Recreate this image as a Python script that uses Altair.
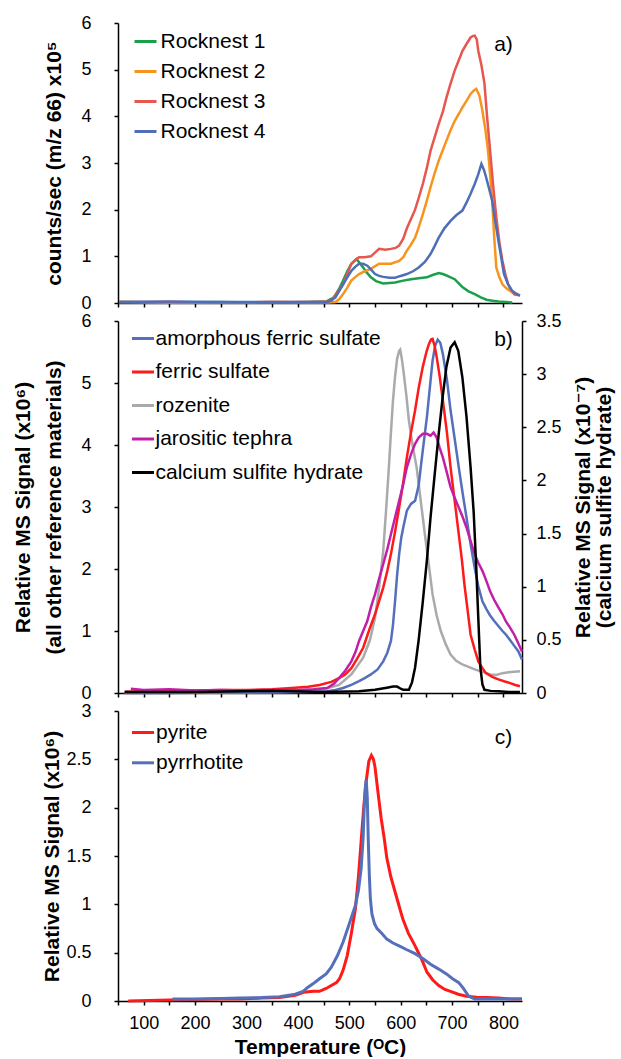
import altair as alt
import pandas as pd

FONT = "Liberation Sans, Arial, DejaVu Sans"

# ---------------- panel a : Rocknest samples (counts/sec x10^5) ----------------
rn_names = ["Rocknest 1", "Rocknest 2", "Rocknest 3", "Rocknest 4"]
rn_colors = ["#1AA04A", "#F7941D", "#E5574F", "#4E6EB8"]

rn1_T = [52, 150, 250, 350, 420, 455, 470, 480, 488, 496, 504, 510, 514, 520, 527, 535, 542, 552, 566, 578,
         589, 605, 620, 635, 651, 662, 674, 682, 689, 697, 705, 712, 720, 732, 744, 756, 767, 778, 790, 805, 817]
rn1_v = [0.02, 0.01, 0.02, 0.01, 0.02, 0.03, 0.12, 0.3, 0.48, 0.68, 0.84, 0.9, 0.94, 0.86, 0.76, 0.64, 0.55, 0.47,
         0.42, 0.43, 0.44, 0.48, 0.51, 0.53, 0.55, 0.6, 0.64, 0.62, 0.59, 0.55, 0.51, 0.43, 0.34, 0.25, 0.19, 0.12,
         0.07, 0.05, 0.03, 0.02, 0.01]

rn2_T = [52, 150, 250, 350, 420, 460, 473, 480, 488, 496, 504, 512, 519, 530, 542, 558, 570, 581, 597, 605, 612,
         620, 628, 635, 643, 651, 658, 666, 674, 682, 689, 697, 705, 713, 720, 728, 736, 742, 747, 753, 759, 765,
         770, 774, 778, 782, 786, 792, 798, 805, 813, 825]
rn2_v = [0.02, 0.01, 0.01, 0.02, 0.01, 0.01, 0.02, 0.08, 0.19, 0.33, 0.48, 0.56, 0.62, 0.68, 0.73, 0.84, 0.84,
         0.84, 0.9, 0.98, 1.12, 1.25, 1.4, 1.62, 1.9, 2.2, 2.48, 2.78, 3.05, 3.28, 3.48, 3.7, 3.9, 4.05, 4.19,
         4.33, 4.48, 4.55, 4.59, 4.45, 4.12, 3.7, 3.26, 2.75, 2.19, 1.4, 0.76, 0.55, 0.4, 0.32, 0.26, 0.16]

rn3_T = [52, 150, 250, 350, 420, 455, 465, 475, 488, 496, 504, 512, 519, 530, 542, 550, 558, 570, 581, 590, 597,
         605, 612, 620, 628, 635, 643, 651, 658, 666, 674, 682, 689, 697, 705, 713, 720, 728, 736, 740, 744, 748,
         751, 757, 763, 768, 774, 780, 786, 792, 798, 804, 809, 815, 821, 832]
rn3_v = [0.02, 0.02, 0.01, 0.02, 0.02, 0.03, 0.05, 0.2, 0.4, 0.62, 0.84, 0.92, 0.98, 0.98, 1.0, 1.08, 1.16, 1.14,
         1.16, 1.18, 1.23, 1.38, 1.6, 1.8, 2.0, 2.25, 2.55, 2.9, 3.26, 3.55, 3.84, 4.1, 4.4, 4.7, 4.98, 5.2, 5.4,
         5.55, 5.69, 5.72, 5.73, 5.65, 5.4, 5.1, 4.7, 4.0, 3.26, 2.5, 1.84, 1.3, 0.9, 0.6, 0.4, 0.28, 0.19, 0.16]

rn4_T = [52, 150, 250, 350, 420, 450, 457, 465, 473, 480, 488, 496, 504, 512, 519, 527, 535, 542, 550, 558, 566,
         578, 589, 600, 612, 624, 635, 647, 658, 666, 674, 685, 697, 708, 720, 728, 736, 744, 751, 757, 762, 766,
         772, 778, 784, 790, 796, 801, 809, 817, 825, 832]
rn4_v = [0.02, 0.03, 0.02, 0.02, 0.02, 0.02, 0.02, 0.05, 0.12, 0.25, 0.4, 0.55, 0.69, 0.78, 0.84, 0.84, 0.8, 0.72,
         0.62, 0.58, 0.56, 0.54, 0.54, 0.58, 0.62, 0.68, 0.76, 0.88, 1.05, 1.22, 1.4, 1.6, 1.76, 1.88, 1.98, 2.15,
         2.34, 2.55, 2.76, 2.98, 2.85, 2.7, 2.45, 2.19, 1.75, 1.34, 0.95, 0.62, 0.4, 0.26, 0.2, 0.16]

# ---------------- panel b : reference materials ----------------
ref_names = ["amorphous ferric sulfate", "ferric sulfate", "rozenite", "jarositic tephra", "calcium sulfite hydrate"]
ref_colors = ["#5470BA", "#FF1A1A", "#AAAAAA", "#C21FA8", "#000000"]

afs_T = [63, 150, 250, 350, 440, 457, 473, 488, 504, 519, 530, 542, 555, 566, 574, 581, 585, 589, 593, 597, 601,
         605, 612, 620, 628, 635, 639, 645, 651, 657, 662, 667, 672, 677, 682, 690, 697, 705, 713, 720, 728, 736,
         744, 751, 759, 767, 774, 782, 790, 798, 805, 813, 821, 829, 836]
afs_v = [0.0, 0.0, 0.01, 0.01, 0.02, 0.03, 0.05, 0.08, 0.13, 0.19, 0.24, 0.3, 0.38, 0.51, 0.65, 0.84, 1.1, 1.48,
         1.9, 2.24, 2.5, 2.67, 2.94, 3.05, 3.1, 3.35, 3.64, 4.05, 4.45, 4.95, 5.36, 5.6, 5.7, 5.65, 5.47, 5.05,
         4.56, 4.1, 3.64, 3.25, 2.83, 2.4, 2.02, 1.72, 1.48, 1.35, 1.25, 1.16, 1.08, 1.0, 0.94, 0.85, 0.76, 0.67,
         0.54]

fs_T = [63, 100, 150, 200, 250, 300, 350, 388, 420, 442, 465, 480, 492, 504, 515, 527, 538, 550, 558, 566, 574,
        581, 589, 597, 605, 612, 620, 628, 635, 643, 650, 655, 659, 662, 666, 670, 676, 682, 690, 697, 705, 713,
        719, 724, 730, 736, 744, 751, 759, 766, 778, 790, 801, 813, 823, 832]
fs_v = [0.02, 0.03, 0.04, 0.04, 0.05, 0.05, 0.06, 0.08, 0.1, 0.13, 0.18, 0.24, 0.3, 0.4, 0.55, 0.73, 1.0, 1.27,
        1.48, 1.7, 1.97, 2.24, 2.6, 2.99, 3.4, 3.8, 4.2, 4.56, 4.92, 5.26, 5.5, 5.63, 5.7, 5.71, 5.6, 5.42, 5.1,
        4.72, 4.2, 3.64, 3.1, 2.56, 2.15, 1.75, 1.35, 0.94, 0.7, 0.51, 0.4, 0.32, 0.26, 0.22, 0.19, 0.16, 0.13,
        0.11]

roz_T = [63, 100, 200, 300, 400, 450, 480, 504, 527, 540, 550, 558, 566, 572, 577, 581, 585, 589, 593, 597, 599,
         602, 606, 611, 616, 623, 631, 639, 647, 655, 662, 670, 678, 688, 697, 708, 720, 732, 744, 759, 774, 786,
         798, 815, 832]
roz_v = [0.0, 0.0, 0.01, 0.01, 0.02, 0.06, 0.13, 0.3, 0.57, 0.85, 1.21, 1.7, 2.29, 3.0, 3.64, 4.2, 4.72, 5.1,
         5.39, 5.52, 5.54, 5.4, 5.15, 4.8, 4.39, 4.0, 3.64, 3.1, 2.56, 2.05, 1.59, 1.25, 1.0, 0.78, 0.62, 0.52,
         0.46, 0.42, 0.38, 0.34, 0.3, 0.29, 0.32, 0.34, 0.35]

jt_T = [75, 100, 150, 200, 250, 300, 350, 400, 430, 457, 470, 480, 492, 504, 512, 519, 527, 535, 542, 550, 558,
        566, 574, 581, 589, 597, 605, 612, 620, 628, 635, 643, 651, 658, 664, 670, 676, 682, 690, 697, 705, 713,
        720, 728, 736, 744, 751, 759, 767, 774, 782, 790, 798, 805, 813, 821, 829, 836]
jt_v = [0.07, 0.05, 0.06, 0.04, 0.05, 0.04, 0.05, 0.05, 0.06, 0.08, 0.15, 0.24, 0.36, 0.51, 0.66, 0.84, 1.0, 1.16,
        1.38, 1.59, 1.84, 2.08, 2.32, 2.56, 2.83, 3.1, 3.37, 3.64, 3.85, 4.02, 4.12, 4.18, 4.18, 4.15, 4.2, 4.12,
        3.95, 3.8, 3.55, 3.32, 3.15, 2.99, 2.85, 2.67, 2.45, 2.24, 2.1, 1.97, 1.8, 1.64, 1.5, 1.38, 1.27, 1.15,
        1.05, 0.94, 0.8, 0.67]

# calcium sulfite hydrate, right axis (x10^-7)
csh_T = [63, 200, 350, 450, 519, 550, 573, 585, 593, 600, 605, 616, 622, 628, 635, 643, 651, 658, 666, 674, 682,
         689, 697, 705, 712, 720, 728, 736, 742, 747, 751, 755, 759, 763, 775, 790, 810, 832]
csh_v = [0.01, 0.01, 0.02, 0.01, 0.016, 0.03, 0.05, 0.06, 0.06, 0.04, 0.03, 0.03, 0.1, 0.24, 0.5, 0.86, 1.25, 1.65,
         2.05, 2.44, 2.8, 3.07, 3.25, 3.3, 3.22, 2.97, 2.6, 2.12, 1.7, 1.18, 0.7, 0.24, 0.08, 0.03, 0.02, 0.016,
         0.01, 0.01]

# ---------------- panel c : sulfides ----------------
sul_names = ["pyrite", "pyrrhotite"]
sul_colors = ["#FF1A1A", "#5470BA"]

py_T = [70, 150, 250, 287, 330, 364, 395, 411, 430, 442, 455, 465, 475, 481, 488, 496, 504, 512, 518, 523, 528,
        533, 538, 543, 547, 550, 556, 562, 568, 573, 581, 589, 597, 604, 615, 628, 640, 651, 662, 674, 686, 697,
        712, 728, 748, 767, 790, 815, 836]
py_v = [0.0, 0.01, 0.02, 0.02, 0.03, 0.035, 0.06, 0.09, 0.1, 0.1, 0.13, 0.16, 0.19, 0.23, 0.32, 0.47, 0.7, 0.96,
        1.3, 1.65, 2.0, 2.28, 2.48, 2.54, 2.5, 2.42, 2.15, 1.89, 1.68, 1.48, 1.28, 1.13, 0.98, 0.85, 0.7, 0.57,
        0.44, 0.3, 0.22, 0.16, 0.12, 0.1, 0.07, 0.05, 0.04, 0.035, 0.03, 0.02, 0.02]

po_T = [156, 200, 250, 287, 330, 364, 395, 410, 419, 430, 442, 455, 465, 477, 488, 500, 512, 518, 523, 527, 529,
        531, 533, 535, 537, 539, 541, 544, 549, 554, 563, 573, 585, 597, 612, 628, 643, 658, 674, 689, 701, 713,
        722, 732, 744, 790, 836]
po_v = [0.02, 0.02, 0.025, 0.03, 0.035, 0.045, 0.07, 0.1, 0.14, 0.18, 0.23, 0.28, 0.35, 0.47, 0.61, 0.8, 0.99,
        1.15, 1.37, 1.7, 2.0, 2.2, 2.29, 2.1, 1.65, 1.3, 1.06, 0.9, 0.8, 0.75, 0.7, 0.64, 0.6, 0.57, 0.53, 0.49,
        0.44, 0.38, 0.33, 0.28, 0.23, 0.19, 0.13, 0.05, 0.02, 0.02, 0.02]

# panel labels
lab_text = ["a)", "b)", "c)"]
lab_T = [800, 800, 800]
lab_v = [5.53, 5.69, 2.72]

# x axis
x_domain = [50, 836]
x_ticks = list(range(50, 801, 50))

W = 404
H_A, H_B, H_C = 280, 372, 290


def long_df(series):
    rows = []
    for name, ts, vs in series:
        for t, v in zip(ts, vs):
            rows.append({"T": t, "v": v, "name": name})
    return pd.DataFrame(rows)


X_SCALE = alt.Scale(domain=x_domain, nice=False, zero=False)

X_PLAIN = alt.X("T:Q", scale=X_SCALE, axis=alt.Axis(values=x_ticks, labels=False, title=None))
X_LABELED = alt.X("T:Q", scale=X_SCALE, axis=alt.Axis(
    values=x_ticks,
    labelExpr="(datum.value % 100 === 0) ? format(datum.value, 'd') : ''",
    labelFlush=False, labelPadding=9,
    title="Temperature (ᴼC)", titleX=W / 2, titleY=35, titleBaseline="top"))

Y_A = alt.Y("v:Q", scale=alt.Scale(domain=[0, 6], nice=False),
            axis=alt.Axis(values=[0, 1, 2, 3, 4, 5, 6], format="~g", title="counts/sec (m/z 66) x10⁵",
                          titleX=-53.5, titleY=H_A / 2))
Y_B = alt.Y("v:Q", scale=alt.Scale(domain=[0, 6], nice=False),
            axis=alt.Axis(values=[0, 1, 2, 3, 4, 5, 6], format="~g",
                          title=["Relative MS Signal (x10⁶)", "(all other reference materials)"],
                          titleLineHeight=31, titleX=-84.5, titleY=H_B / 2))
Y_B2 = alt.Y("v:Q", scale=alt.Scale(domain=[0, 3.5], nice=False),
             axis=alt.Axis(orient="right", values=[0, 0.5, 1, 1.5, 2, 2.5, 3, 3.5], format="~g",
                           title=["Relative MS Signal (x10⁻⁷)", "(calcium sulfite hydrate)"],
                           titleAngle=270, titleBaseline="top", titleLineHeight=21,
                           titleX=50, titleY=H_B / 2, labelPadding=10))
Y_C = alt.Y("v:Q", scale=alt.Scale(domain=[0, 3], nice=False),
            axis=alt.Axis(values=[0, 0.5, 1, 1.5, 2, 2.5, 3], format="~g",
                          title="Relative MS Signal (x10⁶)", titleX=-56, titleY=H_C / 2))


def legend(x, y, row_pad, off):
    return alt.Legend(orient="none", legendX=x, legendY=y, title=None, labelFontSize=21, labelFont=FONT,
                      symbolType="stroke", symbolSize=484, symbolStrokeWidth=3, rowPadding=row_pad,
                      padding=0, labelOffset=off, labelLimit=400)


def panel_label(i, x_enc, y_enc):
    d = pd.DataFrame({"T": [lab_T[i]], "v": [lab_v[i]], "t": [lab_text[i]]})
    return alt.Chart(d).mark_text(fontSize=21, font=FONT, align="center", baseline="middle").encode(
        x=x_enc, y=y_enc, text="t:N")


# ---- panel a
df_a = long_df([("Rocknest 1", rn1_T, rn1_v), ("Rocknest 2", rn2_T, rn2_v),
                ("Rocknest 3", rn3_T, rn3_v), ("Rocknest 4", rn4_T, rn4_v)])
lines_a = alt.Chart(df_a).mark_line(strokeWidth=2.5).encode(
    x=X_PLAIN, y=Y_A,
    color=alt.Color("name:N", scale=alt.Scale(domain=rn_names, range=rn_colors),
                    legend=legend(15, 6, 7, 2.5)),
)
panel_a = alt.layer(lines_a, panel_label(0, X_PLAIN, Y_A)).properties(width=W, height=H_A)

# ---- panel b
df_b = long_df([("rozenite", roz_T, roz_v), ("amorphous ferric sulfate", afs_T, afs_v),
                ("ferric sulfate", fs_T, fs_v), ("jarositic tephra", jt_T, jt_v)])
df_b2 = long_df([("calcium sulfite hydrate", csh_T, csh_v)])
color_b = alt.Color("name:N", scale=alt.Scale(domain=ref_names, range=ref_colors), legend=legend(12.5, 5, 10.5, 0))
lines_b = alt.Chart(df_b).mark_line(strokeWidth=2.5).encode(x=X_PLAIN, y=Y_B, color=color_b)
left_b = alt.layer(lines_b, panel_label(1, X_PLAIN, Y_B))
line_b2 = alt.Chart(df_b2).mark_line(strokeWidth=2.5).encode(x=X_PLAIN, y=Y_B2, color=color_b)
panel_b = alt.layer(left_b, line_b2).resolve_scale(y="independent").properties(width=W, height=H_B)

# ---- panel c
df_c = long_df([("pyrite", py_T, py_v), ("pyrrhotite", po_T, po_v)])
lines_c = alt.Chart(df_c).mark_line(strokeWidth=3).encode(
    x=X_LABELED, y=Y_C,
    color=alt.Color("name:N", scale=alt.Scale(domain=sul_names, range=sul_colors),
                    legend=legend(12.5, 9, 7.3, 0.5)),
)
panel_c = alt.layer(lines_c, panel_label(2, X_LABELED, Y_C)).properties(width=W, height=H_C)

chart = alt.vconcat(panel_a, panel_b, panel_c, spacing=18, bounds="flush").resolve_scale(
    color="independent", x="independent"
).resolve_legend(color="independent").properties(
    padding={"left": 12, "top": 14, "right": 2, "bottom": 0}
).configure(font=FONT).configure_axis(
    labelFont=FONT, labelFontSize=18, labelColor="black", labelPadding=23,
    titleFont=FONT, titleFontSize=21, titleFontWeight="bold", titleColor="black",
    domainColor="black", tickColor="black", domainWidth=1.5, tickWidth=1.5, tickSize=4, grid=False,
).configure_view(stroke=None)

chart.save("out.html", embed_options={"renderer": "svg", "actions": False})
